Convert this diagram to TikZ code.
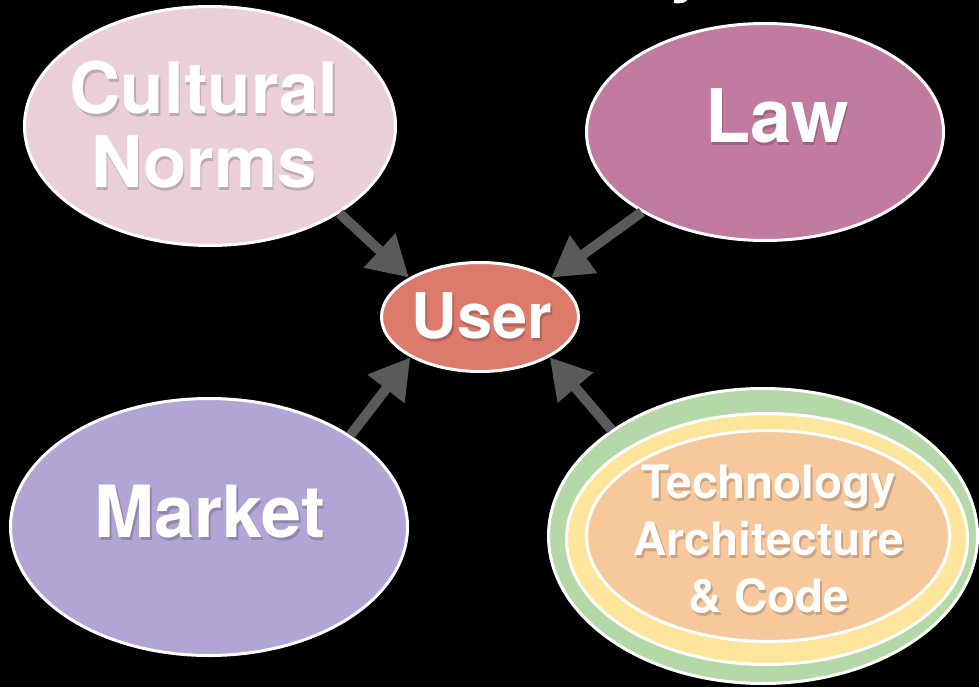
\documentclass[tikz,border=0pt]{standalone}
\usepackage{fontspec}
\setmainfont{TeX Gyre Heros}
\usetikzlibrary{shapes.geometric,arrows.meta}
\definecolor{cultC}{HTML}{EACFDB}
\definecolor{lawC}{HTML}{C17AA0}
\definecolor{userC}{HTML}{DC7B6B}
\definecolor{marketC}{HTML}{B2A4D4}
\definecolor{greenC}{HTML}{B5D8A9}
\definecolor{yellowC}{HTML}{FDE59B}
\definecolor{orangeC}{HTML}{F7C89C}
\definecolor{arrowC}{HTML}{5A5A5A}
\begin{document}
\begin{tikzpicture}[x=1pt,y=-1pt,
  blob/.style={ellipse, draw=white, line width=3pt, inner sep=0pt},
  lbl/.style={text=white, align=center, inner sep=0pt},
  shd/.style={lbl, text=black, text opacity=0.18},
  link/.style={draw=arrowC, line width=10pt, -{Triangle[length=40pt,width=44pt]}}]
\fill[black] (0,0) rectangle (979,687);
\useasboundingbox (0,0) rectangle (979,687);
% ellipses
\node[blob, fill=cultC, minimum width=371pt, minimum height=239pt] (cult) at (210,126) {};
\node[blob, fill=lawC, minimum width=357pt, minimum height=217pt] (law) at (765,132) {};
\node[blob, fill=userC, minimum width=197pt, minimum height=109pt] (user) at (480,317) {};
\node[blob, fill=marketC, minimum width=397pt, minimum height=257pt] (market) at (209,527) {};
\node[blob, fill=greenC, minimum width=429pt, minimum height=295pt] (techO) at (763,536) {};
\node[blob, fill=yellowC, minimum width=401pt, minimum height=251pt] (techM) at (767,539) {};
\node[blob, fill=orangeC, minimum width=363pt, minimum height=211pt] (techI) at (768,536) {};
% arrows
\draw[link] (cult.-34) -- (user.151);
\draw[link] (law.213) -- (user.29);
\draw[link] (market.33) -- (user.210);
\draw[link] (techO.145) -- (user.-30);
% cut-off title fragment
\node[lbl, anchor=base west, font=\bfseries\fontsize{70}{70}\selectfont] (title) at (668,-11) {y};
% label shadows
\node[shd, font=\bfseries\fontsize{71}{74}\selectfont] (cultS) at (205.5,128) {Cultural\\Norms};
\node[shd, anchor=base, font=\bfseries\fontsize{74}{74}\selectfont] (lawS) at (778.5,146) {Law};
\node[shd, anchor=base, font=\bfseries\fontsize{63}{63}\selectfont] (userS) at (483.5,341) {User};
\node[shd, anchor=base, font=\bfseries\fontsize{72}{72}\selectfont] (marketS) at (211.5,540) {Market};
\node[shd, font=\bfseries\fontsize{46}{57}\selectfont] (techS) at (770.5,542) {Technology\\Architecture\\\& Code};
% labels
\node[lbl, font=\bfseries\fontsize{71}{74}\selectfont] (cultT) at (204,125) {Cultural\\Norms};
\node[lbl, anchor=base, font=\bfseries\fontsize{74}{74}\selectfont] (lawT) at (777,143) {Law};
\node[lbl, anchor=base, font=\bfseries\fontsize{63}{63}\selectfont] (userT) at (482,338) {User};
\node[lbl, anchor=base, font=\bfseries\fontsize{72}{72}\selectfont] (marketT) at (210,537) {Market};
\node[lbl, font=\bfseries\fontsize{46}{57}\selectfont] (techT) at (769,539) {Technology\\Architecture\\\& Code};
\end{tikzpicture}
\end{document}
